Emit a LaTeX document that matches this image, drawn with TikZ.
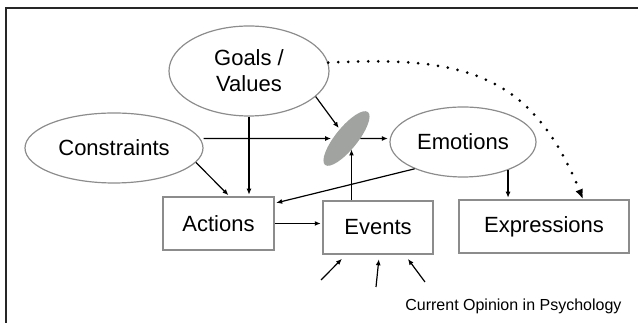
\documentclass[tikz,border=0pt]{standalone}
\usepackage{fontspec}
\setmainfont{Liberation Sans}
\usetikzlibrary{shapes.geometric,arrows.meta}
\definecolor{rimgray}{RGB}{140,140,140}
\definecolor{knotgray}{RGB}{160,163,160}
\begin{document}
\begin{tikzpicture}[x=1pt,y=1pt,
		oval/.style={ellipse,draw=rimgray,line width=1.2pt,inner sep=0pt,align=center,font=\fontsize{22}{26}\selectfont},
		box/.style={rectangle,draw=rimgray,line width=1.5pt,inner sep=0pt,font=\fontsize{22}{26}\selectfont},
		arr/.style={line width=1.2pt,shorten >=1.5pt,-{Latex[length=6pt,width=5pt]}}]
					\useasboundingbox (0,0) rectangle (638,323);
					\draw[line width=1.8pt,black!85] (6,0) -- (6,315) -- (638,315);
					% ovals and boxes
					\node[oval,minimum width=160pt,minimum height=90pt] (goals) at (249,252) {Goals /\\Values};
					\node[oval,minimum width=178pt,minimum height=70pt] (constr) at (114,175) {Constraints};
					\node[oval,minimum width=146pt,minimum height=70pt] (emot) at (463,181) {Emotions};
					\node[ellipse,fill=knotgray,minimum width=68pt,minimum height=22pt,rotate=51] (knot) at (346.5,184.5) {};
					\node[box,minimum width=111pt,minimum height=53pt] (actions) at (218.5,99.5) {Actions};
					\node[box,minimum width=110pt,minimum height=53pt] (events) at (378,95.5) {Events};
					\node[box,minimum width=170pt,minimum height=53pt] (expr) at (544,96.5) {Expressions};
					\node[anchor=base east,font=\fontsize{16}{19}\selectfont] (credit) at (625,12) {Current Opinion in Psychology};
					\coordinate (knotfoot) at (351.5,175);
					\coordinate (ev1) at (321,43);
					\coordinate (ev2) at (376,36);
					\coordinate (ev3) at (425,41);
					% connectors
					\draw[arr] (goals.south) -- (goals.south |- actions.north);
					\draw[arr] (goals.-21) -- (knot);
					\draw[arr] (knot -| constr.east) -- (knot);
					\draw[arr] (knot) -- (knot -| emot.west);
					\draw[arr] (constr.-10) -- ([xshift=11pt]actions.north);
					\draw[arr] (emot.209) -- ([yshift=-7pt]actions.north east);
					\draw[arr] (actions.east) -- (actions.east -| events.west);
					\draw[arr] ([xshift=-26.5pt]events.north) -- (knotfoot);
					\draw[arr] (emot.-32.5) -- (emot.-32.5 |- expr.north);
					\draw[arr] (ev1) -- ([xshift=-35pt,yshift=-3pt]events.south);
					\draw[arr] (ev2) -- ([xshift=1pt,yshift=-3pt]events.south);
					\draw[arr] (ev3) -- ([xshift=29pt,yshift=-3pt]events.south);
					\draw[line width=3pt,line cap=round,dash pattern=on 0pt off 10pt,-{Latex[length=10pt,width=8pt]}] (goals.6) to[out=3,in=112,looseness=1.2] ([xshift=39pt]expr.north);
			\end{tikzpicture}
\end{document}
